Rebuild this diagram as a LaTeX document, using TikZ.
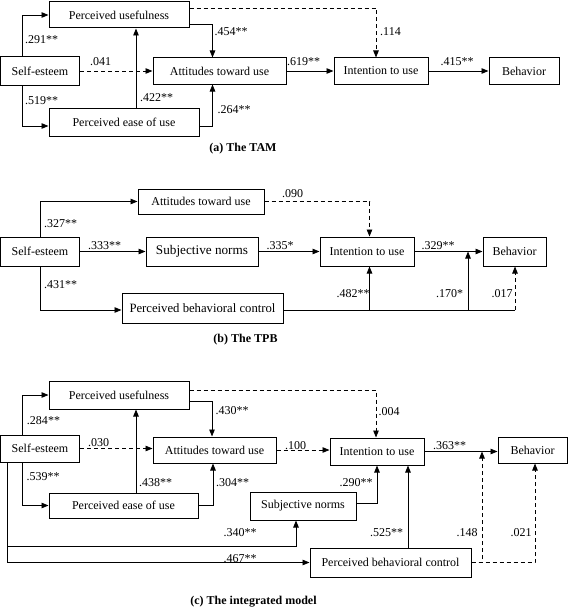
\documentclass[tikz,border=0pt]{standalone}
\usepackage{fontspec}
\setmainfont{Liberation Serif}
\usetikzlibrary{arrows.meta}

\begin{document}
\begin{tikzpicture}[x=1pt,y=-1pt,
  box/.style={draw,line width=1pt,inner sep=0pt,font=\fontsize{12}{14}\selectfont},
  lbl/.style={inner sep=0pt,font=\fontsize{12}{14}\selectfont},
  captxt/.style={inner sep=0pt,font=\fontsize{12}{14}\selectfont\bfseries},
  conn/.style={line width=0.9pt},
  arr/.style={conn,-{Triangle[length=7pt,width=5.5pt]}},
  darr/.style={arr,dash pattern=on 4pt off 3pt}]
\useasboundingbox (0,0) rectangle (568,610);

% (a) the TAM
\node[box,minimum width=140pt,minimum height=26pt] (pu1) at (119,15) {Perceived usefulness};
\node[box,minimum width=79pt,minimum height=29pt] (se1) at (40,71) {Self-esteem};
\node[box,minimum width=133pt,minimum height=26pt] (att1) at (219.5,71) {Attitudes toward use};
\node[box,minimum width=150pt,minimum height=28pt] (peou1) at (124,122) {Perceived ease of use};
\node[box,minimum width=94pt,minimum height=26pt] (int1) at (381,71) {Intention to use};
\node[box,minimum width=70pt,minimum height=26pt] (beh1) at (524,71) {Behavior};

\draw[arr] ([xshift=-18pt]se1.north) |- (pu1);
\draw[arr] ([xshift=-18pt]se1.south) |- ([yshift=-4pt]peou1.west);
\draw[darr] (se1) -- (att1);
\draw[arr] ([yshift=-9pt]pu1.east) -| ([xshift=-7pt]att1.north);
\coordinate (a-up) at ([xshift=12pt]peou1.north);
\draw[arr] (a-up) -- (a-up |- pu1.south);
\draw[arr] ([yshift=-4pt]peou1.east) -| ([xshift=-7pt]att1.south);
\draw[arr] (att1) -- (int1);
\draw[darr] ([yshift=7pt]pu1.east) -| ([xshift=-5pt]int1.north);
\draw[arr] (int1) -- (beh1);

\node[lbl] (a1) at (41.5,40) {.291**};
\node[lbl] (a2) at (41.5,101) {.519**};
\node[lbl] (a3) at (100.5,62) {.041};
\node[lbl] (a4) at (231,32) {.454**};
\node[lbl] (a5) at (156.5,98) {.422**};
\node[lbl] (a6) at (234,110) {.264**};
\node[lbl] (a7) at (303.5,62) {.619**};
\node[lbl] (a8) at (390.5,32) {.114};
\node[lbl] (a9) at (457,62) {.415**};
\node[captxt] (capa) at (243,149) {(a) The TAM};

% (b) the TPB
\node[box,minimum width=126pt,minimum height=25pt] (att2) at (201,201.5) {Attitudes toward use};
\node[box,minimum width=79pt,minimum height=29pt] (se2) at (40,251.5) {Self-esteem};
\node[box,minimum width=112pt,minimum height=29pt,font=\fontsize{13.2}{15}\selectfont] (sn2) at (202,251.5) {Subjective norms};
\node[box,minimum width=161pt,minimum height=30pt,font=\fontsize{12.7}{15}\selectfont] (pbc2) at (202.5,308) {Perceived behavioral control};
\node[box,minimum width=94pt,minimum height=29pt] (int2) at (367,251.5) {Intention to use};
\node[box,minimum width=63pt,minimum height=29pt] (beh2) at (514.5,251.5) {Behavior};

\draw[arr] (se2.north) |- (att2);
\draw[arr] (se2) -- (sn2);
\draw[arr] (se2.south) |- ([yshift=-2pt]pbc2.west);
\draw[darr] (att2.east) -| ([xshift=2.5pt]int2.north);
\draw[arr] (sn2) -- (int2);
\draw[arr] (int2) -- (beh2);
\coordinate (b-pc) at ([yshift=-2pt]pbc2.east);
\coordinate (b-j1) at (369.5,310);
\coordinate (b-j2) at (468,310);
\coordinate (b-j3) at (515,310);
\draw[conn] (b-pc) -- (b-j3);
\draw[arr] (b-j1) -- (b-j1 |- int2.south);
\draw[arr] (b-j2) -- (b-j2 |- int2.east);
\draw[darr] (b-j3) -- (b-j3 |- beh2.south);

\node[lbl] (b1) at (60.5,224) {.327**};
\node[lbl] (b2) at (104.5,246) {.333**};
\node[lbl] (b3) at (60.5,285) {.431**};
\node[lbl] (b4) at (292.5,194) {.090};
\node[lbl] (b5) at (280,246) {.335*};
\node[lbl] (b6) at (438,246) {.329**};
\node[lbl] (b7) at (353,294) {.482**};
\node[lbl] (b8) at (449.5,294) {.170*};
\node[lbl] (b9) at (502,294) {.017};
\node[captxt] (capb) at (245.5,340) {(b) The TPB};

% (c) the integrated model
\node[box,minimum width=140pt,minimum height=28pt] (pu3) at (119,395) {Perceived usefulness};
\node[box,minimum width=79pt,minimum height=27pt] (se3) at (40,448.5) {Self-esteem};
\node[box,minimum width=123pt,minimum height=26pt] (att3) at (214.5,450) {Attitudes toward use};
\node[box,minimum width=94pt,minimum height=27pt] (int3) at (377,451.5) {Intention to use};
\node[box,minimum width=69pt,minimum height=26pt] (beh3) at (532.5,450) {Behavior};
\node[box,minimum width=149pt,minimum height=25pt] (peou3) at (123.5,505.5) {Perceived ease of use};
\node[box,minimum width=106pt,minimum height=28pt] (sn3) at (303,506) {Subjective norms};
\node[box,minimum width=161pt,minimum height=29pt] (pbc3) at (390.5,562.5) {Perceived behavioral control};

\draw[arr] ([xshift=-18pt]se3.north) |- (pu3);
\draw[darr] (se3) -- (se3 -| att3.west);
\draw[arr] ([xshift=-18pt]se3.south) |- (peou3);
\draw[arr] ([yshift=-6pt]pu3.east) -| ([xshift=-2.5pt]att3.north);
\coordinate (c-up) at ([xshift=12.5pt]peou3.north);
\draw[arr] (c-up) -- (c-up |- pu3.south);
\draw[arr] (peou3.east) -| ([xshift=-1.5pt]att3.south);
\draw[darr] ([yshift=5pt]pu3.east) -| ([xshift=-1pt]int3.north);
\draw[darr] (att3.east) -- (att3.east -| int3.west);
\draw[arr] (int3.east) -- (int3.east -| beh3.west);
\draw[arr] ([yshift=3pt]sn3.east) -| (int3.south);
\coordinate (c-pc) at ([xshift=17.5pt]pbc3.north);
\draw[arr] (c-pc) -- (c-pc |- int3.south);
\coordinate (c-se) at ([xshift=-33pt]se3.south);
\coordinate (c-sn) at (296,546);
\draw[arr] (c-se) |- (c-sn) -- (c-sn |- sn3.south);
\draw[arr] (c-se) |- (pbc3);
\coordinate (c-m) at (482,451.5);
\draw[darr] (pbc3.east) -| (c-m);
\draw[darr] (pbc3.east) -| ([xshift=2.5pt]beh3.south);

\node[lbl] (c1) at (43.5,421) {.284**};
\node[lbl] (c2) at (98.5,443) {.030};
\node[lbl] (c3) at (232,411) {.430**};
\node[lbl] (c4) at (389,412) {.004};
\node[lbl] (c5) at (295.5,446) {.100};
\node[lbl] (c6) at (449.5,446) {.363**};
\node[lbl] (c7) at (43,477) {.539**};
\node[lbl] (c8) at (155.5,483) {.438**};
\node[lbl] (c9) at (232.5,483) {.304**};
\node[lbl] (c10) at (356,483) {.290**};
\node[lbl] (c11) at (240,533) {.340**};
\node[lbl] (c12) at (240,559) {.467**};
\node[lbl] (c13) at (386.5,533) {.525**};
\node[lbl] (c14) at (467,533) {.148};
\node[lbl] (c15) at (521,533) {.021};
\node[captxt] (capc) at (253.5,602) {(c) The integrated model};
\end{tikzpicture}
\end{document}
